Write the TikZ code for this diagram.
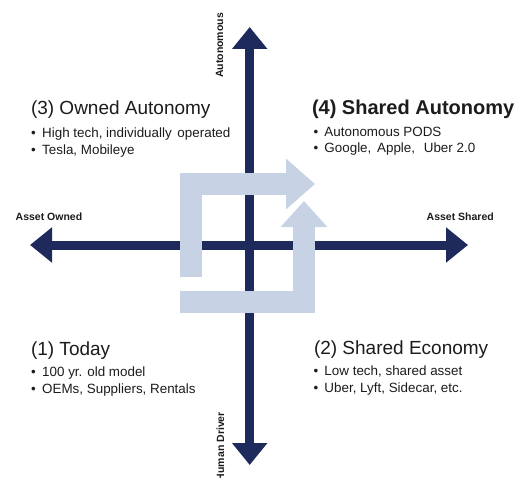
\documentclass[tikz,border=0pt]{standalone}
\usepackage{fontspec}
\setmainfont{Liberation Sans}
\usetikzlibrary{arrows.meta}
\definecolor{navy}{RGB}{30,42,92}
\definecolor{lightflow}{RGB}{199,211,228}
\definecolor{txt}{RGB}{28,28,28}
\newcommand\mybul{\makebox[11pt][l]{•}}
\begin{document}
\begin{tikzpicture}[x=1pt,y=-1pt,
  axis/.style={draw=navy, fill=navy, line width=9pt,
    {Triangle[width=34pt,length=22pt]}-{Triangle[width=34pt,length=22pt]}},
  flow/.style={draw=lightflow, line width=22pt, line join=miter},
  title/.style={font=\fontsize{19}{22}\selectfont, text=txt, inner sep=0pt, anchor=base west},
  bullet/.style={font=\fontsize{13.4}{16}\selectfont, text=txt, inner sep=0pt, anchor=base west},
  axlabel/.style={font=\bfseries\fontsize{10.5}{12}\selectfont, text=txt, inner sep=0pt}]
\useasboundingbox (0,0) rectangle (521,478);
\clip (0,0) rectangle (521,478);
\fill[white] (0,0) rectangle (521,478);

% axes
\coordinate (T) at (249.7,27);
\coordinate (B) at (249.7,465);
\coordinate (L) at (30,245);
\coordinate (R) at (468,245);
\draw[axis] (L) -- (R);
\draw[axis] (T) -- (B);

% light flow arrows
\coordinate (a1s) at (191,277);
\coordinate (a1e) at (315,184);
\coordinate (a2s) at (180,301.5);
\coordinate (a2e) at (304,201);
\draw[flow, -{Triangle[width=49pt,length=29pt]}] (a1s) |- (a1e);
\draw[flow, -{Triangle[width=45pt,length=26pt]}] (a2s) -| (a2e);

% axis labels
\node[axlabel, anchor=base west] (lo) at (15.5,220.7) {Asset Owned};
\node[axlabel, anchor=base west] (ls) at (426.5,220.7) {Asset Shared};
\node[axlabel, anchor=base, rotate=90] (la) at (223,45.5) {Autonomous};
\node[axlabel, anchor=base east, rotate=90] (lh) at (224,412) {Human Driver};

% quadrant 3
\node[title] (t3) at (30.8,115) {(3) Owned Autonomy};
\node[bullet] (b3a) at (31,137.5) {\mybul High tech, individually\hspace{2pt} operated};
\node[bullet] (b3b) at (31,154.5) {\mybul Tesla, Mobileye};
% quadrant 4
\node[title, font=\bfseries\fontsize{20}{24}\selectfont] (t4) at (311.8,115) {(4) Shared Autonomy};
\node[bullet] (b4a) at (313.3,136.5) {\mybul Autonomous PODS};
\node[bullet] (b4b) at (313.3,153) {\mybul Google,\hspace{2pt} Apple,\hspace{5pt} Uber 2.0};
% quadrant 1
\node[title] (t1) at (30.8,355) {(1) Today};
\node[bullet] (b1a) at (31,376) {\mybul 100 yr. old model};
\node[bullet] (b1b) at (31,393.5) {\mybul OEMs, Suppliers, Rentals};
% quadrant 2
\node[title] (t2) at (313.8,354) {(2) Shared Economy};
\node[bullet] (b2a) at (313.3,375) {\mybul Low tech, shared asset};
\node[bullet] (b2b) at (313.3,392) {\mybul Uber, Lyft, Sidecar, etc.};
\end{tikzpicture}
\end{document}
